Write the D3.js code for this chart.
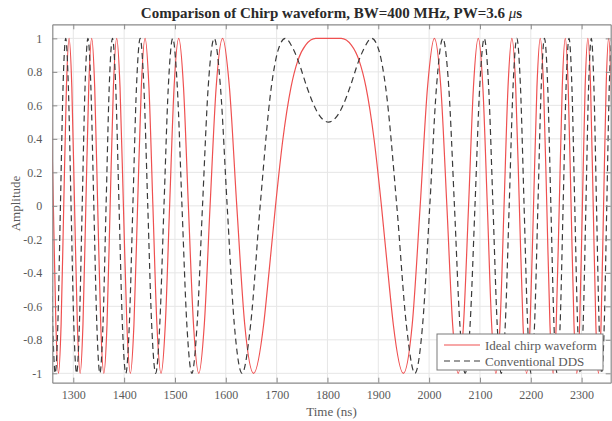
<!DOCTYPE html>
<html>
<head>
<meta charset="utf-8">
<script src="https://cdn.jsdelivr.net/npm/d3@7"></script>
<style>
  html, body { margin: 0; padding: 0; background: #fff; }
  svg { display: block; font-family: "Liberation Serif", "Times New Roman", serif; }
</style>
</head>
<body>
<svg id="chart" width="612" height="421"></svg>
<script>
// ---- data (time in ns, amplitude) ----
const xTicks = [1300, 1400, 1500, 1600, 1700, 1800, 1900, 2000, 2100, 2200, 2300];
const yTicks = [-1, -0.8, -0.6, -0.4, -0.2, 0, 0.2, 0.4, 0.6, 0.8, 1];
const yTickLabels = ["-1", "-0.8", "-0.6", "-0.4", "-0.2", "0", "0.2", "0.4", "0.6", "0.8", "1"];
const seriesNames = ["Ideal chirp waveform", "Conventional DDS"];

const idealWave = [
  [1255.8,0.71],[1260.8,0],[1265.8,-0.71],[1270.9,-1],[1276.0,-0.71],[1281.2,0],[1286.5,0.71],[1291.7,1],
  [1297.1,0.71],[1302.5,0],[1308.0,-0.71],[1313.5,-1],[1319.0,-0.71],[1324.7,0],[1330.4,0.71],[1336.2,1],
  [1342.1,0.71],[1348.0,0],[1354.0,-0.71],[1360.1,-1],[1366.3,-0.71],[1372.5,0],[1378.9,0.71],[1385.4,1],
  [1391.9,0.71],[1398.6,0],[1405.4,-0.71],[1412.3,-1],[1419.3,-0.71],[1426.5,0],[1433.8,0.71],[1441.2,1],
  [1448.8,0.71],[1456.6,0],[1464.5,-0.71],[1472.6,-1],[1481.0,-0.71],[1489.5,0],[1498.3,0.71],[1507.4,1],
  [1516.8,0.71],[1526.4,0],[1536.5,-0.71],[1546.9,-1],[1557.7,-0.71],[1569.1,0],[1581.1,0.71],[1593.7,1],
  [1607.1,0.71],[1621.6,0],[1637.3,-0.71],[1654.7,-1],[1674.4,-0.71],[1682.0,-0.49],[1697.8,0],[1712.0,0.39],
  [1728.4,0.71],[1742.0,0.87],[1757.0,0.96],[1777.0,1],
  [1802.0,1],
  [1827.0,1],[1847.0,0.96],[1862.0,0.87],[1875.7,0.71],[1892.0,0.39],[1906.2,0],[1922.0,-0.49],[1929.6,-0.71],
  [1949.3,-1],[1966.7,-0.71],[1982.4,0],[1996.9,0.71],[2010.3,1],
  [2023.0,0.71],[2034.9,0],[2046.3,-0.71],[2057.1,-1],[2067.6,-0.71],[2077.6,0],[2087.2,0.71],[2096.6,1],
  [2105.7,0.71],[2114.5,0],[2123.0,-0.71],[2131.4,-1],[2139.5,-0.71],[2147.4,0],[2155.2,0.71],[2162.8,1],
  [2170.3,0.71],[2177.5,0],[2184.7,-0.71],[2191.7,-1],[2198.6,-0.71],[2205.4,0],[2212.1,0.71],[2218.6,1],
  [2225.1,0.71],[2231.5,0],[2237.7,-0.71],[2243.9,-1],[2250.0,-0.71],[2256.0,0],[2261.9,0.71],[2267.8,1],
  [2273.6,0.71],[2279.3,0],[2285.0,-0.71],[2290.5,-1],[2296.1,-0.71],[2301.5,0],[2306.9,0.71],[2312.3,1],
  [2317.6,0.71],[2322.8,0],[2328.0,-0.71],[2333.1,-1],[2338.2,-0.71],[2343.2,0],[2348.2,0.71],[2353.1,1],
  [2358.1,0.71],[2362.9,0]
];

const ddsWave = [
  [1254.5,0],[1259.5,-0.71],[1264.5,-1],[1269.6,-0.71],[1274.7,0],[1279.8,0.71],[1285.1,1],
  [1290.3,0.71],[1295.6,0],[1301.0,-0.71],[1306.5,-1],[1312.0,-0.71],[1317.5,0],[1323.1,0.71],[1328.8,1],
  [1334.6,0.71],[1340.4,0],[1346.3,-0.71],[1352.3,-1],[1358.4,-0.71],[1364.5,0],[1370.7,0.71],[1377.1,1],
  [1383.5,0.71],[1390.0,0],[1396.6,-0.71],[1403.4,-1],[1410.2,-0.71],[1417.2,0],[1424.3,0.71],[1431.6,1],
  [1438.9,0.71],[1446.5,0],[1454.2,-0.71],[1462.1,-1],[1470.1,-0.71],[1478.4,0],[1486.9,0.71],[1495.6,1],
  [1504.6,0.71],[1513.8,0],[1523.4,-0.71],[1533.3,-1],[1543.5,-0.71],[1554.2,0],[1565.4,0.71],[1577.2,1],
  [1589.5,0.71],[1602.7,0],[1616.8,-0.71],[1632.0,-1],[1648.8,-0.71],[1667.6,0],[1689.6,0.71],[1702.0,0.92],
  [1717.0,1],[1732.0,0.94],[1742.0,0.87],[1759.5,0.71],[1772.0,0.61],[1782.0,0.55],
  [1802.0,0.5],
  [1822.0,0.55],[1832.0,0.61],[1844.5,0.71],[1862.0,0.87],[1872.0,0.94],[1887.0,1],[1902.0,0.92],[1914.4,0.71],
  [1936.4,0],[1955.2,-0.71],[1972.0,-1],[1987.2,-0.71],[2001.3,0],[2014.5,0.71],[2026.9,1],
  [2038.6,0.71],[2049.8,0],[2060.5,-0.71],[2070.8,-1],[2080.6,-0.71],[2090.2,0],[2099.5,0.71],[2108.4,1],
  [2117.1,0.71],[2125.6,0],[2133.9,-0.71],[2141.9,-1],[2149.8,-0.71],[2157.5,0],[2165.1,0.71],[2172.5,1],
  [2179.7,0.71],[2186.8,0],[2193.8,-0.71],[2200.6,-1],[2207.4,-0.71],[2214.0,0],[2220.5,0.71],[2226.9,1],
  [2233.3,0.71],[2239.5,0],[2245.6,-0.71],[2251.7,-1],[2257.7,-0.71],[2263.6,0],[2269.4,0.71],[2275.2,1],
  [2280.9,0.71],[2286.5,0],[2292.1,-0.71],[2297.6,-1],[2303.0,-0.71],[2308.4,0],[2313.7,0.71],[2319.0,1],
  [2324.2,0.71],[2329.3,0],[2334.4,-0.71],[2339.5,-1],[2344.5,-0.71],[2349.5,0],[2354.4,0.71],[2359.3,1],
  [2364.1,0.71]
];

// ---- layout ----
const svg = d3.select("#chart");
const L = 52.3, R = 610.7, T = 24.3, B = 382.7;
const x = d3.scaleLinear().domain([1258.7, 2357.2]).range([L, R]);
const y = d3.scaleLinear().domain([-1.056, 1.084]).range([B, T]);

const axisColor = "#8a8a8a";
const textColor = "#5a5a5a";

// clip
svg.append("defs").append("clipPath").attr("id", "plotclip")
  .append("rect").attr("x", L).attr("y", T).attr("width", R - L).attr("height", B - T);

// grid
const grid = svg.append("g");
grid.selectAll("line.gx").data(xTicks).enter().append("line")
  .attr("x1", d => x(d)).attr("x2", d => x(d)).attr("y1", T).attr("y2", B)
  .attr("stroke", "#e6e6e6").attr("stroke-width", 1);
grid.selectAll("line.gy").data(yTicks).enter().append("line")
  .attr("x1", L).attr("x2", R).attr("y1", d => y(d)).attr("y2", d => y(d))
  .attr("stroke", "#e6e6e6").attr("stroke-width", 1);

// lines
const line = d3.line().x(d => x(d[0])).y(d => y(d[1])).curve(d3.curveMonotoneX);
const plot = svg.append("g").attr("clip-path", "url(#plotclip)");
plot.append("path").datum(idealWave).attr("d", line)
  .attr("fill", "none").attr("stroke", "#ef5050").attr("stroke-width", 1.2);
plot.append("path").datum(ddsWave).attr("d", line)
  .attr("fill", "none").attr("stroke", "#3a3a3a").attr("stroke-width", 1.2)
  .attr("stroke-dasharray", "6,4");

// axes
const tickLen = 5;
const xb = svg.append("g").attr("transform", `translate(0,${B})`)
  .call(d3.axisBottom(x).tickValues(xTicks).tickSizeInner(-tickLen).tickSizeOuter(0).tickPadding(8).tickFormat(d3.format("d")));
const xt = svg.append("g").attr("transform", `translate(0,${T})`)
  .call(d3.axisTop(x).tickValues(xTicks).tickSizeInner(-tickLen).tickSizeOuter(0).tickFormat(""));
const yl = svg.append("g").attr("transform", `translate(${L},0)`)
  .call(d3.axisLeft(y).tickValues(yTicks).tickSizeInner(-tickLen).tickSizeOuter(0).tickPadding(10)
    .tickFormat((d, i) => yTickLabels[i]));
const yr = svg.append("g").attr("transform", `translate(${R},0)`)
  .call(d3.axisRight(y).tickValues(yTicks).tickSizeInner(-tickLen).tickSizeOuter(0).tickFormat(""));

[xb, xt, yl, yr].forEach(g => {
  g.select(".domain").attr("stroke", axisColor).attr("stroke-width", 1.2);
  g.selectAll(".tick line").attr("stroke", axisColor);
  g.selectAll(".tick text").attr("fill", textColor).style("font-size", "12px")
    .style("font-family", "'Liberation Serif', serif");
});

// title & labels
const title = svg.append("text").attr("x", (L + R) / 2).attr("y", 17.5).attr("text-anchor", "middle")
  .attr("fill", "#2a2a2a").style("font-size", "15px").style("font-weight", "bold");
title.append("tspan").text("Comparison of Chirp waveform, BW=400 MHz, PW=3.6 ");
title.append("tspan").style("font-style", "italic").style("font-weight", "normal").text("μ");
title.append("tspan").text("s");

svg.append("text").attr("x", (L + R) / 2).attr("y", 416).attr("text-anchor", "middle")
  .attr("fill", textColor).style("font-size", "13px").text("Time (ns)");
svg.append("text").attr("transform", `translate(20,${(T + B) / 2}) rotate(-90)`).attr("text-anchor", "middle")
  .attr("fill", textColor).style("font-size", "13px").text("Amplitude");

// legend
const lg = svg.append("g");
lg.append("rect").attr("x", 437).attr("y", 334).attr("width", 166).attr("height", 36)
  .attr("fill", "#fff").attr("stroke", "#7a7a7a").attr("stroke-width", 1);
const legendStyles = [
  { color: "#ef5050", dash: null },
  { color: "#3a3a3a", dash: "6,4" }
];
seriesNames.forEach((name, i) => {
  const yy = 345 + i * 16;
  lg.append("line").attr("x1", 444).attr("x2", 480).attr("y1", yy).attr("y2", yy)
    .attr("stroke", legendStyles[i].color).attr("stroke-width", 1.2)
    .attr("stroke-dasharray", legendStyles[i].dash);
  lg.append("text").attr("x", 485).attr("y", yy + 4.5).attr("fill", textColor)
    .style("font-size", "13px").text(name);
});
</script>
</body>
</html>
